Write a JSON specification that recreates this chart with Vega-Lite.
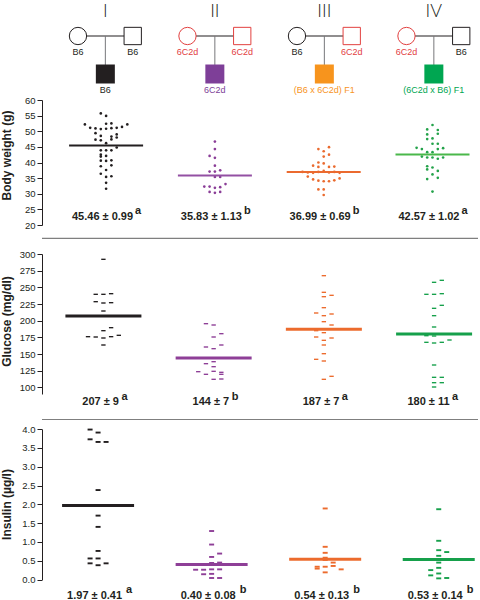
{
  "$schema": "https://vega.github.io/schema/vega-lite/v6.json",
  "background": "white",
  "padding": 0,
  "autosize": {"type": "pad"},
  "bounds": "flush",
  "spacing": 0,
  "config": {
    "view": {"stroke": null},
    "axis": {
      "grid": false, "domainColor": "#231f20", "tickColor": "#231f20", "tickSize": 5,
      "labelFont": "Liberation Sans", "labelFontSize": 9.5, "labelColor": "#231f20", "labelPadding": 2,
      "labelOverlap": false, "labelFlush": false,
      "titleFont": "Liberation Sans", "titleFontSize": 12, "titleFontWeight": "bold", "titleColor": "#231f20",
      "titlePadding": 5, "minExtent": 24, "maxExtent": 24
    }
  },
  "resolve": {"scale": {"x": "independent", "y": "independent", "color": "independent", "fill": "independent", "stroke": "independent", "shape": "independent", "xOffset": "independent"}},
  "datasets": {
    "pedigree": [
      {"group": "I", "member": "mother", "generation": 0, "strain": "B6"},
      {"group": "I", "member": "father", "generation": 0, "strain": "B6"},
      {"group": "I", "member": "offspring", "generation": 1, "strain": "B6"},
      {"group": "II", "member": "mother", "generation": 0, "strain": "6C2d"},
      {"group": "II", "member": "father", "generation": 0, "strain": "6C2d"},
      {"group": "II", "member": "offspring", "generation": 1, "strain": "6C2d"},
      {"group": "III", "member": "mother", "generation": 0, "strain": "B6"},
      {"group": "III", "member": "father", "generation": 0, "strain": "6C2d"},
      {"group": "III", "member": "offspring", "generation": 1, "strain": "(B6 x 6C2d) F1"},
      {"group": "IV", "member": "mother", "generation": 0, "strain": "6C2d"},
      {"group": "IV", "member": "father", "generation": 0, "strain": "B6"},
      {"group": "IV", "member": "offspring", "generation": 1, "strain": "(6C2d x B6) F1"}
    ],
    "stats": [
      {"group": "I", "bwMean": 45.46, "bwLabel": "45.46 ± 0.99", "bwSig": "a", "gluMean": 207, "gluLabel": "207 ± 9", "gluSig": "a", "insMean": 1.97, "insLabel": "1.97 ± 0.41", "insSig": "a"},
      {"group": "II", "bwMean": 35.83, "bwLabel": "35.83 ± 1.13", "bwSig": "b", "gluMean": 144, "gluLabel": "144 ± 7", "gluSig": "b", "insMean": 0.40, "insLabel": "0.40 ± 0.08", "insSig": "b"},
      {"group": "III", "bwMean": 36.99, "bwLabel": "36.99 ± 0.69", "bwSig": "b", "gluMean": 187, "gluLabel": "187 ± 7", "gluSig": "a", "insMean": 0.54, "insLabel": "0.54 ± 0.13", "insSig": "b"},
      {"group": "IV", "bwMean": 42.57, "bwLabel": "42.57 ± 1.02", "bwSig": "a", "gluMean": 180, "gluLabel": "180 ± 11", "gluSig": "a", "insMean": 0.53, "insLabel": "0.53 ± 0.14", "insSig": "b"}
    ],
    "bw": [
      {"group": "I", "slot": -1, "weight": 55.7}, {"group": "I", "slot": 0, "weight": 54.9},
      {"group": "I", "slot": 1, "weight": 52.5}, {"group": "I", "slot": 0, "weight": 52.4},
      {"group": "I", "slot": -4, "weight": 52.2}, {"group": "I", "slot": 4, "weight": 52.2},
      {"group": "I", "slot": -3, "weight": 51.1}, {"group": "I", "slot": -2, "weight": 50.9},
      {"group": "I", "slot": -1, "weight": 50.7}, {"group": "I", "slot": 0, "weight": 50.8},
      {"group": "I", "slot": 1, "weight": 51.0}, {"group": "I", "slot": 2, "weight": 51.1},
      {"group": "I", "slot": 3, "weight": 51.4}, {"group": "I", "slot": -2, "weight": 49.4},
      {"group": "I", "slot": 2, "weight": 49.0}, {"group": "I", "slot": -1, "weight": 48.5},
      {"group": "I", "slot": 1, "weight": 48.3}, {"group": "I", "slot": 2, "weight": 48.0},
      {"group": "I", "slot": -2, "weight": 47.3}, {"group": "I", "slot": -1, "weight": 47.1},
      {"group": "I", "slot": 1, "weight": 47.4}, {"group": "I", "slot": 0, "weight": 46.2},
      {"group": "I", "slot": 2, "weight": 44.8}, {"group": "I", "slot": -1, "weight": 43.9},
      {"group": "I", "slot": 0, "weight": 43.9}, {"group": "I", "slot": 1, "weight": 43.9},
      {"group": "I", "slot": -1, "weight": 42.5}, {"group": "I", "slot": -1, "weight": 41.9},
      {"group": "I", "slot": 0, "weight": 42.1}, {"group": "I", "slot": -1, "weight": 40.6},
      {"group": "I", "slot": 0, "weight": 40.5}, {"group": "I", "slot": 1, "weight": 40.7},
      {"group": "I", "slot": 1, "weight": 39.1}, {"group": "I", "slot": -1, "weight": 38.8},
      {"group": "I", "slot": 0, "weight": 37.6}, {"group": "I", "slot": -1, "weight": 36.4},
      {"group": "I", "slot": 0, "weight": 35.4}, {"group": "I", "slot": 1, "weight": 35.6},
      {"group": "I", "slot": 0, "weight": 33.5}, {"group": "I", "slot": 0, "weight": 31.6},
      {"group": "II", "slot": 0, "weight": 46.7}, {"group": "II", "slot": 0, "weight": 44.3},
      {"group": "II", "slot": -1, "weight": 42.1}, {"group": "II", "slot": 0, "weight": 41.5},
      {"group": "II", "slot": 0, "weight": 39.0}, {"group": "II", "slot": -1, "weight": 37.1},
      {"group": "II", "slot": 0, "weight": 37.1}, {"group": "II", "slot": 1, "weight": 37.5},
      {"group": "II", "slot": 0, "weight": 35.4}, {"group": "II", "slot": 1, "weight": 35.4},
      {"group": "II", "slot": 2, "weight": 33.1}, {"group": "II", "slot": -2, "weight": 32.3},
      {"group": "II", "slot": -1, "weight": 32.3}, {"group": "II", "slot": 0, "weight": 31.9},
      {"group": "II", "slot": 1, "weight": 32.1}, {"group": "II", "slot": -1, "weight": 30.6},
      {"group": "II", "slot": 0, "weight": 30.3}, {"group": "II", "slot": 1, "weight": 30.6},
      {"group": "III", "slot": 1, "weight": 44.9}, {"group": "III", "slot": -1, "weight": 44.3},
      {"group": "III", "slot": 0, "weight": 43.6}, {"group": "III", "slot": 1, "weight": 42.5},
      {"group": "III", "slot": 0, "weight": 41.9}, {"group": "III", "slot": -1, "weight": 40.0},
      {"group": "III", "slot": 0, "weight": 39.7}, {"group": "III", "slot": -2, "weight": 39.0},
      {"group": "III", "slot": -1, "weight": 38.6}, {"group": "III", "slot": 1, "weight": 38.6},
      {"group": "III", "slot": 2, "weight": 38.7}, {"group": "III", "slot": -4, "weight": 37.0},
      {"group": "III", "slot": -3, "weight": 36.8}, {"group": "III", "slot": -2, "weight": 36.7},
      {"group": "III", "slot": -1, "weight": 37.0}, {"group": "III", "slot": 0, "weight": 37.3},
      {"group": "III", "slot": 1, "weight": 36.8}, {"group": "III", "slot": 2, "weight": 37.0},
      {"group": "III", "slot": 3, "weight": 36.7}, {"group": "III", "slot": -3, "weight": 35.5},
      {"group": "III", "slot": -2, "weight": 34.6}, {"group": "III", "slot": -1, "weight": 34.2},
      {"group": "III", "slot": 0, "weight": 34.0}, {"group": "III", "slot": 1, "weight": 34.0},
      {"group": "III", "slot": 2, "weight": 34.3}, {"group": "III", "slot": 3, "weight": 34.9},
      {"group": "III", "slot": -1, "weight": 31.4}, {"group": "III", "slot": 0, "weight": 31.4},
      {"group": "III", "slot": 0, "weight": 29.6},
      {"group": "IV", "slot": 0, "weight": 52.0}, {"group": "IV", "slot": -1, "weight": 50.6},
      {"group": "IV", "slot": 1, "weight": 50.4}, {"group": "IV", "slot": -1, "weight": 49.0},
      {"group": "IV", "slot": 1, "weight": 49.2}, {"group": "IV", "slot": -1, "weight": 47.5},
      {"group": "IV", "slot": 0, "weight": 47.7}, {"group": "IV", "slot": 0, "weight": 46.0},
      {"group": "IV", "slot": 1, "weight": 46.0}, {"group": "IV", "slot": -3, "weight": 44.7},
      {"group": "IV", "slot": -2, "weight": 44.3}, {"group": "IV", "slot": 1, "weight": 44.3},
      {"group": "IV", "slot": 2, "weight": 44.6}, {"group": "IV", "slot": -1, "weight": 43.3},
      {"group": "IV", "slot": 0, "weight": 43.3}, {"group": "IV", "slot": -2, "weight": 41.9},
      {"group": "IV", "slot": -1, "weight": 41.6}, {"group": "IV", "slot": 0, "weight": 41.6},
      {"group": "IV", "slot": 1, "weight": 41.2}, {"group": "IV", "slot": 2, "weight": 41.6},
      {"group": "IV", "slot": -1, "weight": 38.8}, {"group": "IV", "slot": 0, "weight": 38.4},
      {"group": "IV", "slot": -1, "weight": 37.8}, {"group": "IV", "slot": 1, "weight": 37.3},
      {"group": "IV", "slot": 0, "weight": 36.2}, {"group": "IV", "slot": -1, "weight": 34.7},
      {"group": "IV", "slot": 1, "weight": 35.1}, {"group": "IV", "slot": 0, "weight": 30.7}
    ],
    "glucose": [
      {"group": "I", "slot": 0, "glucose": 292}, {"group": "I", "slot": -1, "glucose": 239.5},
      {"group": "I", "slot": 0, "glucose": 239.5}, {"group": "I", "slot": 1, "glucose": 240.5},
      {"group": "I", "slot": -1, "glucose": 228.5}, {"group": "I", "slot": 0, "glucose": 226.5},
      {"group": "I", "slot": 1, "glucose": 227}, {"group": "I", "slot": 0, "glucose": 214.5},
      {"group": "I", "slot": 1, "glucose": 189.5}, {"group": "I", "slot": 0, "glucose": 185},
      {"group": "I", "slot": -2, "glucose": 176}, {"group": "I", "slot": -1, "glucose": 175.5},
      {"group": "I", "slot": 0, "glucose": 174}, {"group": "I", "slot": 1, "glucose": 176},
      {"group": "I", "slot": 2, "glucose": 178}, {"group": "I", "slot": 0, "glucose": 163.5},
      {"group": "II", "slot": -1, "glucose": 195.5}, {"group": "II", "slot": 0, "glucose": 193.5},
      {"group": "II", "slot": 1, "glucose": 180.5}, {"group": "II", "slot": 0, "glucose": 175.5},
      {"group": "II", "slot": 1, "glucose": 163.5}, {"group": "II", "slot": -1, "glucose": 160.5},
      {"group": "II", "slot": 0, "glucose": 158}, {"group": "II", "slot": 0, "glucose": 138.5},
      {"group": "II", "slot": -1, "glucose": 135.5}, {"group": "II", "slot": 0, "glucose": 131},
      {"group": "II", "slot": -2, "glucose": 123.5}, {"group": "II", "slot": 0, "glucose": 124},
      {"group": "II", "slot": 1, "glucose": 122.5}, {"group": "II", "slot": -1, "glucose": 119.5},
      {"group": "II", "slot": 1, "glucose": 119.5}, {"group": "II", "slot": 0, "glucose": 112},
      {"group": "II", "slot": 1, "glucose": 112.5},
      {"group": "III", "slot": 0, "glucose": 267.5}, {"group": "III", "slot": 0, "glucose": 242.5},
      {"group": "III", "slot": 0, "glucose": 236}, {"group": "III", "slot": 1, "glucose": 238},
      {"group": "III", "slot": 0, "glucose": 219.5}, {"group": "III", "slot": -1, "glucose": 211.5},
      {"group": "III", "slot": 0, "glucose": 207.5}, {"group": "III", "slot": 1, "glucose": 210},
      {"group": "III", "slot": 0, "glucose": 198.5}, {"group": "III", "slot": 1, "glucose": 193.5},
      {"group": "III", "slot": -1, "glucose": 185}, {"group": "III", "slot": 0, "glucose": 182},
      {"group": "III", "slot": -1, "glucose": 175.5}, {"group": "III", "slot": 0, "glucose": 170.5},
      {"group": "III", "slot": 1, "glucose": 174}, {"group": "III", "slot": 0, "glucose": 163.5},
      {"group": "III", "slot": 0, "glucose": 150.5}, {"group": "III", "slot": -1, "glucose": 142},
      {"group": "III", "slot": 0, "glucose": 139.5}, {"group": "III", "slot": 0, "glucose": 112},
      {"group": "III", "slot": 1, "glucose": 116.5},
      {"group": "IV", "slot": 0, "glucose": 257.5}, {"group": "IV", "slot": 1, "glucose": 260.5},
      {"group": "IV", "slot": -1, "glucose": 239.5}, {"group": "IV", "slot": 0, "glucose": 239.5},
      {"group": "IV", "slot": 1, "glucose": 240.5}, {"group": "IV", "slot": 0, "glucose": 218.5},
      {"group": "IV", "slot": 1, "glucose": 223}, {"group": "IV", "slot": 0, "glucose": 207.5},
      {"group": "IV", "slot": 0, "glucose": 190.5}, {"group": "IV", "slot": -1, "glucose": 177.5},
      {"group": "IV", "slot": 0, "glucose": 177}, {"group": "IV", "slot": -1, "glucose": 167.5},
      {"group": "IV", "slot": 0, "glucose": 166.5}, {"group": "IV", "slot": 1, "glucose": 167.5},
      {"group": "IV", "slot": 2, "glucose": 171}, {"group": "IV", "slot": 0, "glucose": 133.5},
      {"group": "IV", "slot": 0, "glucose": 115}, {"group": "IV", "slot": 1, "glucose": 115},
      {"group": "IV", "slot": 0, "glucose": 107}, {"group": "IV", "slot": 1, "glucose": 107},
      {"group": "IV", "slot": 0, "glucose": 100.5}
    ],
    "insulin": [
      {"group": "I", "slot": -1, "insulin": 3.99}, {"group": "I", "slot": 0, "insulin": 3.91},
      {"group": "I", "slot": -1, "insulin": 3.73}, {"group": "I", "slot": 0, "insulin": 3.66},
      {"group": "I", "slot": 1, "insulin": 3.66}, {"group": "I", "slot": 0, "insulin": 2.38},
      {"group": "I", "slot": 0, "insulin": 1.70}, {"group": "I", "slot": 0, "insulin": 1.40},
      {"group": "I", "slot": 0, "insulin": 0.76}, {"group": "I", "slot": -1, "insulin": 0.56},
      {"group": "I", "slot": 0, "insulin": 0.56}, {"group": "I", "slot": -1, "insulin": 0.43},
      {"group": "I", "slot": 0, "insulin": 0.38}, {"group": "I", "slot": 1, "insulin": 0.43},
      {"group": "II", "slot": 0, "insulin": 1.29}, {"group": "II", "slot": 0, "insulin": 0.93},
      {"group": "II", "slot": 0, "insulin": 0.60}, {"group": "II", "slot": 1, "insulin": 0.69},
      {"group": "II", "slot": -1, "insulin": 0.41}, {"group": "II", "slot": 0, "insulin": 0.44},
      {"group": "II", "slot": 1, "insulin": 0.45}, {"group": "II", "slot": -2, "insulin": 0.26},
      {"group": "II", "slot": -1, "insulin": 0.26}, {"group": "II", "slot": 0, "insulin": 0.27},
      {"group": "II", "slot": 1, "insulin": 0.27}, {"group": "II", "slot": -1, "insulin": 0.14},
      {"group": "II", "slot": 0, "insulin": 0.15}, {"group": "II", "slot": 0, "insulin": 0.04},
      {"group": "II", "slot": 1, "insulin": 0.04},
      {"group": "III", "slot": 0, "insulin": 1.89}, {"group": "III", "slot": 0, "insulin": 0.87},
      {"group": "III", "slot": 0, "insulin": 0.71}, {"group": "III", "slot": 0, "insulin": 0.58},
      {"group": "III", "slot": 0, "insulin": 0.52}, {"group": "III", "slot": 1, "insulin": 0.45},
      {"group": "III", "slot": 1, "insulin": 0.36}, {"group": "III", "slot": -1, "insulin": 0.34},
      {"group": "III", "slot": -1, "insulin": 0.29}, {"group": "III", "slot": 0, "insulin": 0.34},
      {"group": "III", "slot": 2, "insulin": 0.27}, {"group": "III", "slot": 0, "insulin": 0.19},
      {"group": "IV", "slot": 0, "insulin": 1.87}, {"group": "IV", "slot": 0, "insulin": 1.03},
      {"group": "IV", "slot": 0, "insulin": 0.78}, {"group": "IV", "slot": 1, "insulin": 0.73},
      {"group": "IV", "slot": 0, "insulin": 0.63}, {"group": "IV", "slot": 0, "insulin": 0.45},
      {"group": "IV", "slot": 0, "insulin": 0.31}, {"group": "IV", "slot": -1, "insulin": 0.25},
      {"group": "IV", "slot": 0, "insulin": 0.16}, {"group": "IV", "slot": -1, "insulin": 0.11},
      {"group": "IV", "slot": 0, "insulin": 0.03}, {"group": "IV", "slot": 1, "insulin": 0.04}
    ]
  },
  "vconcat": [
    {
      "width": 436, "height": 100,
      "layer": [
        {
          "data": {"name": "pedigree"},
          "transform": [{"filter": "datum.member === 'offspring'"}],
          "mark": {"type": "tick", "orient": "horizontal", "size": 45, "thickness": 1, "color": "#231f20", "opacity": 1},
          "encoding": {
            "x": {"field": "group", "type": "nominal", "scale": {"domain": ["I", "II", "III", "IV"], "range": [8.6, 446.6], "paddingInner": 0, "paddingOuter": 0}, "axis": null},
            "y": {"datum": 0, "type": "quantitative", "scale": {"domain": [0, 1], "range": [36, 74]}, "axis": null}
          }
        },
        {
          "data": {"name": "pedigree"},
          "transform": [{"filter": "datum.member === 'offspring'"}],
          "mark": {"type": "rule", "color": "#77787b", "strokeWidth": 1},
          "encoding": {
            "x": {"field": "group", "type": "nominal", "axis": null},
            "y": {"field": "generation", "type": "quantitative", "axis": null},
            "y2": {"datum": 0}
          }
        },
        {
          "data": {"name": "pedigree"},
          "transform": [{"filter": "datum.member !== 'offspring'"}],
          "mark": {"type": "point", "filled": true, "fill": "white", "size": 300, "strokeWidth": 1, "opacity": 1},
          "encoding": {
            "x": {"field": "group", "type": "nominal", "axis": null},
            "xOffset": {"field": "member", "type": "nominal", "scale": {"type": "point", "domain": ["mother", "offspring", "father"], "padding": 1.461}},
            "y": {"field": "generation", "type": "quantitative", "axis": null},
            "shape": {"field": "member", "type": "nominal", "scale": {"domain": ["mother", "father"], "range": ["circle", "square"]}, "legend": null},
            "stroke": {"field": "strain", "type": "nominal", "scale": {"domain": ["B6", "6C2d"], "range": ["#231f20", "#e2403f"]}, "legend": null}
          }
        },
        {
          "data": {"name": "pedigree"},
          "transform": [{"filter": "datum.member === 'offspring'"}],
          "mark": {"type": "point", "shape": "square", "filled": true, "size": 361, "opacity": 1},
          "encoding": {
            "x": {"field": "group", "type": "nominal", "axis": null},
            "y": {"field": "generation", "type": "quantitative", "axis": null},
            "fill": {"field": "group", "type": "nominal", "scale": {"domain": ["I", "II", "III", "IV"], "range": ["#231f20", "#7e3f98", "#f7941d", "#00a651"]}, "legend": null}
          }
        },
        {
          "data": {"name": "pedigree"},
          "transform": [{"filter": "datum.member !== 'offspring'"}],
          "mark": {"type": "text", "font": "Liberation Sans", "fontSize": 9, "baseline": "middle", "dy": 16},
          "encoding": {
            "x": {"field": "group", "type": "nominal", "axis": null},
            "xOffset": {"field": "member", "type": "nominal"},
            "y": {"field": "generation", "type": "quantitative", "axis": null},
            "text": {"field": "strain"},
            "color": {"field": "strain", "type": "nominal", "scale": {"domain": ["B6", "6C2d"], "range": ["#231f20", "#e2403f"]}, "legend": null}
          }
        },
        {
          "data": {"name": "pedigree"},
          "transform": [{"filter": "datum.member === 'offspring'"}],
          "mark": {"type": "text", "font": "Liberation Sans", "fontSize": 9, "baseline": "middle", "dy": 15.5},
          "encoding": {
            "x": {"field": "group", "type": "nominal", "axis": null},
            "y": {"field": "generation", "type": "quantitative", "axis": null},
            "text": {"field": "strain"},
            "fill": {"field": "group", "type": "nominal", "legend": null}
          }
        },
        {
          "data": {"name": "pedigree"},
          "transform": [{"filter": "datum.member === 'offspring'"}],
          "mark": {"type": "text", "font": "Lato", "fontWeight": 300, "fontSize": 18, "baseline": "middle", "dy": -24.5, "color": "#231f20"},
          "encoding": {
            "x": {"field": "group", "type": "nominal", "axis": null},
            "y": {"datum": 0, "type": "quantitative", "axis": null},
            "text": {"field": "group"}
          }
        }
      ]
    },
    {
      "width": 436, "height": 125,
      "layer": [
        {
          "data": {"name": "bw"},
          "mark": {"type": "point", "shape": "circle", "filled": true, "size": 7, "opacity": 1},
          "encoding": {
            "x": {"field": "group", "type": "nominal", "scale": {"domain": ["I", "II", "III", "IV"], "range": [9.7, 444.9], "paddingInner": 0, "paddingOuter": 0}, "axis": null},
            "xOffset": {"field": "slot", "type": "quantitative", "scale": {"domain": [-10.26, 10.26], "nice": false, "zero": false}},
            "y": {"field": "weight", "type": "quantitative", "scale": {"domain": [20, 60], "nice": false, "zero": false},
                  "axis": {"values": [20, 25, 30, 35, 40, 45, 50, 55, 60], "title": "Body weight (g)", "titleY": 55}},
            "color": {"field": "group", "type": "nominal", "scale": {"domain": ["I", "II", "III", "IV"], "range": ["#231f20", "#8a3d97", "#ea6a2e", "#23a24a"]}, "legend": null}
          }
        },
        {
          "data": {"name": "stats"},
          "mark": {"type": "tick", "orient": "horizontal", "size": 74, "thickness": 2, "opacity": 1},
          "encoding": {
            "x": {"field": "group", "type": "nominal", "axis": null},
            "y": {"field": "bwMean", "type": "quantitative",
                  "axis": {"values": [20, 25, 30, 35, 40, 45, 50, 55, 60], "title": "Body weight (g)", "titleY": 55}},
            "fill": {"field": "group", "type": "nominal", "scale": {"domain": ["I", "II", "III", "IV"], "range": ["#231f20", "#9350a3", "#eb6a2f", "#4ab84b"]}, "legend": null}
          }
        },
        {
          "data": {"name": "stats"},
          "mark": {"type": "text", "align": "right", "baseline": "middle", "dx": 27, "font": "Liberation Sans", "fontSize": 11, "fontWeight": "bold", "color": "#231f20"},
          "encoding": {
            "x": {"field": "group", "type": "nominal", "axis": null},
            "y": {"datum": 22.7, "axis": {"values": [20, 25, 30, 35, 40, 45, 50, 55, 60], "title": "Body weight (g)", "titleY": 55}},
            "text": {"field": "bwLabel"}
          }
        },
        {
          "data": {"name": "stats"},
          "mark": {"type": "text", "align": "left", "baseline": "middle", "dx": 29, "dy": -6, "font": "Liberation Sans", "fontSize": 11, "fontWeight": "bold", "color": "#231f20"},
          "encoding": {
            "x": {"field": "group", "type": "nominal", "axis": null},
            "y": {"datum": 22.7, "axis": {"values": [20, 25, 30, 35, 40, 45, 50, 55, 60], "title": "Body weight (g)", "titleY": 55}},
            "text": {"field": "bwSig"}
          }
        }
      ]
    },
    {
      "width": 436, "height": 169,
      "layer": [
        {
          "data": {"name": "stats"},
          "transform": [{"filter": "datum.group === 'I'"}],
          "mark": {"type": "rule", "color": "#7f7f7f", "strokeWidth": 1.2},
          "encoding": {"y": {"datum": 323.5, "axis": {"values": [100, 125, 150, 175, 200, 225, 250, 275, 300], "title": "Glucose (mg/dl)", "titleY": 96, "domainDash": [140, 1000]}}}
        },
        {
          "data": {"name": "glucose"},
          "mark": {"type": "point", "shape": "M-1,-0.32L1,-0.32L1,0.32L-1,0.32Z", "filled": true, "size": 19, "opacity": 1},
          "encoding": {
            "x": {"field": "group", "type": "nominal", "scale": {"domain": ["I", "II", "III", "IV"], "range": [6.3, 447.2], "paddingInner": 0, "paddingOuter": 0}, "axis": null},
            "xOffset": {"field": "slot", "type": "quantitative", "scale": {"domain": [-7.16, 7.16], "nice": false, "zero": false}},
            "y": {"field": "glucose", "type": "quantitative", "scale": {"domain": [90, 343.5], "nice": false, "zero": false},
                  "axis": {"values": [100, 125, 150, 175, 200, 225, 250, 275, 300], "title": "Glucose (mg/dl)", "titleY": 96, "domainDash": [140, 1000]}},
            "color": {"field": "group", "type": "nominal", "scale": {"domain": ["I", "II", "III", "IV"], "range": ["#231f20", "#8e3f97", "#ec6b2d", "#16a04b"]}, "legend": null}
          }
        },
        {
          "data": {"name": "stats"},
          "mark": {"type": "tick", "orient": "horizontal", "size": 76, "thickness": 3, "opacity": 1},
          "encoding": {
            "x": {"field": "group", "type": "nominal", "axis": null},
            "y": {"field": "gluMean", "type": "quantitative",
                  "axis": {"values": [100, 125, 150, 175, 200, 225, 250, 275, 300], "title": "Glucose (mg/dl)", "titleY": 96, "domainDash": [140, 1000]}},
            "fill": {"field": "group", "type": "nominal", "scale": {"domain": ["I", "II", "III", "IV"], "range": ["#231f20", "#8e3f97", "#ec6b2d", "#16a04b"]}, "legend": null}
          }
        },
        {
          "data": {"name": "stats"},
          "mark": {"type": "text", "align": "right", "baseline": "middle", "dx": 15.5, "font": "Liberation Sans", "fontSize": 11, "fontWeight": "bold", "color": "#231f20"},
          "encoding": {
            "x": {"field": "group", "type": "nominal", "axis": null},
            "y": {"datum": 77.9, "axis": {"values": [100, 125, 150, 175, 200, 225, 250, 275, 300], "title": "Glucose (mg/dl)", "titleY": 96, "domainDash": [140, 1000]}},
            "text": {"field": "gluLabel"}
          }
        },
        {
          "data": {"name": "stats"},
          "mark": {"type": "text", "align": "left", "baseline": "middle", "dx": 18, "dy": -5.5, "font": "Liberation Sans", "fontSize": 11, "fontWeight": "bold", "color": "#231f20"},
          "encoding": {
            "x": {"field": "group", "type": "nominal", "axis": null},
            "y": {"datum": 77.9, "axis": {"values": [100, 125, 150, 175, 200, 225, 250, 275, 300], "title": "Glucose (mg/dl)", "titleY": 96, "domainDash": [140, 1000]}},
            "text": {"field": "gluSig"}
          }
        }
      ]
    },
    {
      "width": 436, "height": 185.5,
      "layer": [
        {
          "data": {"name": "stats"},
          "transform": [{"filter": "datum.group === 'I'"}],
          "mark": {"type": "rule", "color": "#7f7f7f", "strokeWidth": 1.2},
          "encoding": {"y": {"datum": 4.257, "axis": {"values": [0, 0.5, 1, 1.5, 2, 2.5, 3, 3.5, 4], "format": ".1f", "title": "Insulin (µg/l)", "titleY": 110, "domainDash": [150.3, 1000]}}}
        },
        {
          "data": {"name": "insulin"},
          "mark": {"type": "point", "shape": "M-1,-0.38L1,-0.38L1,0.38L-1,0.38Z", "filled": true, "size": 25, "opacity": 1},
          "encoding": {
            "x": {"field": "group", "type": "nominal", "scale": {"domain": ["I", "II", "III", "IV"], "range": [-0.7, 453.5], "paddingInner": 0, "paddingOuter": 0}, "axis": null},
            "xOffset": {"field": "slot", "type": "quantitative", "scale": {"domain": [-7.1, 7.1], "nice": false, "zero": false}},
            "y": {"field": "insulin", "type": "quantitative", "scale": {"domain": [0, 4.936], "nice": false, "zero": false},
                  "axis": {"values": [0, 0.5, 1, 1.5, 2, 2.5, 3, 3.5, 4], "format": ".1f", "title": "Insulin (µg/l)", "titleY": 110, "domainDash": [150.3, 1000]}},
            "color": {"field": "group", "type": "nominal", "scale": {"domain": ["I", "II", "III", "IV"], "range": ["#231f20", "#8e3f97", "#ec6b2d", "#16a04b"]}, "legend": null}
          }
        },
        {
          "data": {"name": "stats"},
          "mark": {"type": "tick", "orient": "horizontal", "size": 72, "thickness": 3, "opacity": 1},
          "encoding": {
            "x": {"field": "group", "type": "nominal", "axis": null},
            "y": {"field": "insMean", "type": "quantitative",
                  "axis": {"values": [0, 0.5, 1, 1.5, 2, 2.5, 3, 3.5, 4], "format": ".1f", "title": "Insulin (µg/l)", "titleY": 110, "domainDash": [150.3, 1000]}},
            "fill": {"field": "group", "type": "nominal", "scale": {"domain": ["I", "II", "III", "IV"], "range": ["#231f20", "#8e3f97", "#ec6b2d", "#16a04b"]}, "legend": null}
          }
        },
        {
          "data": {"name": "stats"},
          "mark": {"type": "text", "align": "right", "baseline": "middle", "dx": 24, "font": "Liberation Sans", "fontSize": 11, "fontWeight": "bold", "color": "#231f20"},
          "encoding": {
            "x": {"field": "group", "type": "nominal", "axis": null},
            "y": {"datum": -0.44, "axis": {"values": [0, 0.5, 1, 1.5, 2, 2.5, 3, 3.5, 4], "format": ".1f", "title": "Insulin (µg/l)", "titleY": 110, "domainDash": [150.3, 1000]}},
            "text": {"field": "insLabel"}
          }
        },
        {
          "data": {"name": "stats"},
          "mark": {"type": "text", "align": "left", "baseline": "middle", "dx": 28, "dy": -6, "font": "Liberation Sans", "fontSize": 11, "fontWeight": "bold", "color": "#231f20"},
          "encoding": {
            "x": {"field": "group", "type": "nominal", "axis": null},
            "y": {"datum": -0.44, "axis": {"values": [0, 0.5, 1, 1.5, 2, 2.5, 3, 3.5, 4], "format": ".1f", "title": "Insulin (µg/l)", "titleY": 110, "domainDash": [150.3, 1000]}},
            "text": {"field": "insSig"}
          }
        }
      ]
    }
  ]
}
